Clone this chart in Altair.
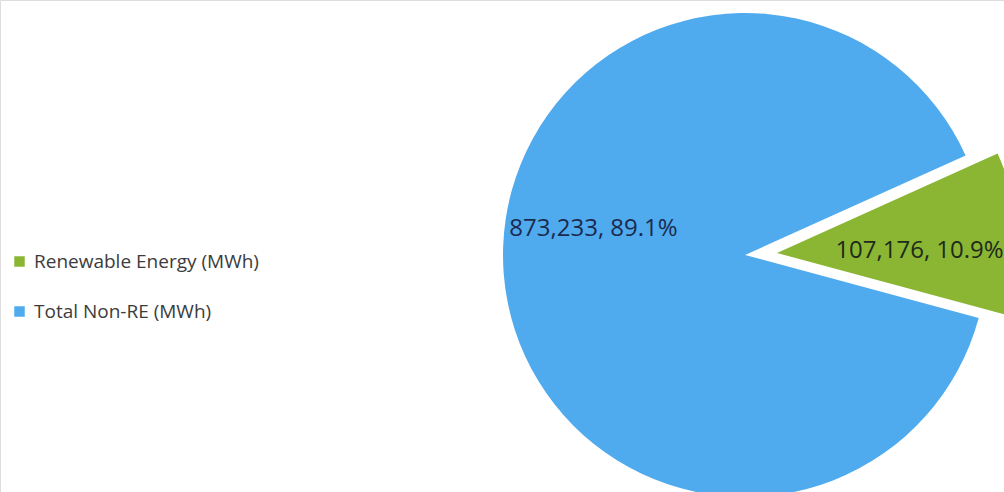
import altair as alt
import pandas as pd

categories = ["Renewable Energy (MWh)", "Total Non-RE (MWh)"]
values = [107176, 873233]
colors = ["#8AB634", "#50AAEE"]

df = pd.DataFrame({"category": categories, "value": values})

START = 1.147  # radians, start angle of first slice
TWO_PI = 6.283185307

base = alt.Chart(df).transform_window(
    order="row_number()"
).transform_joinaggregate(
    total="sum(value)"
).transform_stack(
    stack="value", as_=["v0", "v1"], groupby=[], sort=[alt.SortField("order")]
).transform_calculate(
    mid="(datum.v0 + datum.v1) / 2",
    label="format(datum.value, ',') + ', ' + format(datum.value / datum.total, '.1%')",
)

theta_scale = alt.Scale(
    domain=[0, sum(values)], range=[START, START + TWO_PI], zero=True, nice=False
)
color_enc = alt.Color(
    "category:N",
    scale=alt.Scale(domain=categories, range=colors),
    legend=alt.Legend(
        title=None,
        orient="none",
        legendX=10,
        legendY=252,
        symbolType="square",
        symbolSize=110,
        symbolStrokeWidth=0,
        labelFont="Open Sans",
        labelFontSize=19,
        labelColor="#3C3C3C",
        labelOffset=5,
        labelLimit=0,
        rowPadding=30,
    ),
)

blue_arc = base.transform_filter(alt.datum.category == categories[1]).mark_arc(
    radius=242
).encode(
    theta=alt.Theta("v0:Q", scale=theta_scale),
    theta2="v1:Q",
    color=color_enc,
    x=alt.value(745),
    y=alt.value(255),
)

green_arc = base.transform_filter(alt.datum.category == categories[0]).mark_arc(
    radius=242
).encode(
    theta=alt.Theta("v0:Q", scale=theta_scale),
    theta2="v1:Q",
    color=color_enc,
    x=alt.value(777),
    y=alt.value(253),
)

blue_label = base.transform_filter(alt.datum.category == categories[1]).mark_text(
    font="Open Sans", fontSize=24, color="#1B2B4E", radius=152, dy=-38
).encode(
    theta=alt.Theta("mid:Q", scale=theta_scale),
    text="label:N",
    x=alt.value(745),
    y=alt.value(255),
)

green_label = base.transform_filter(alt.datum.category == categories[0]).mark_text(
    font="Open Sans", fontSize=24, color="#1E2A1A", radius=143, dy=9
).encode(
    theta=alt.Theta("mid:Q", scale=theta_scale),
    text="label:N",
    x=alt.value(777),
    y=alt.value(253),
)

chart = alt.layer(blue_arc, green_arc, blue_label, green_label).properties(
    width=1004,
    height=492,
    padding=0,
    autosize=alt.AutoSizeParams(type="none"),
).configure_view(stroke=None).configure(background="white")

chart.save("out.html", embed_options={"renderer": "svg", "actions": False})
